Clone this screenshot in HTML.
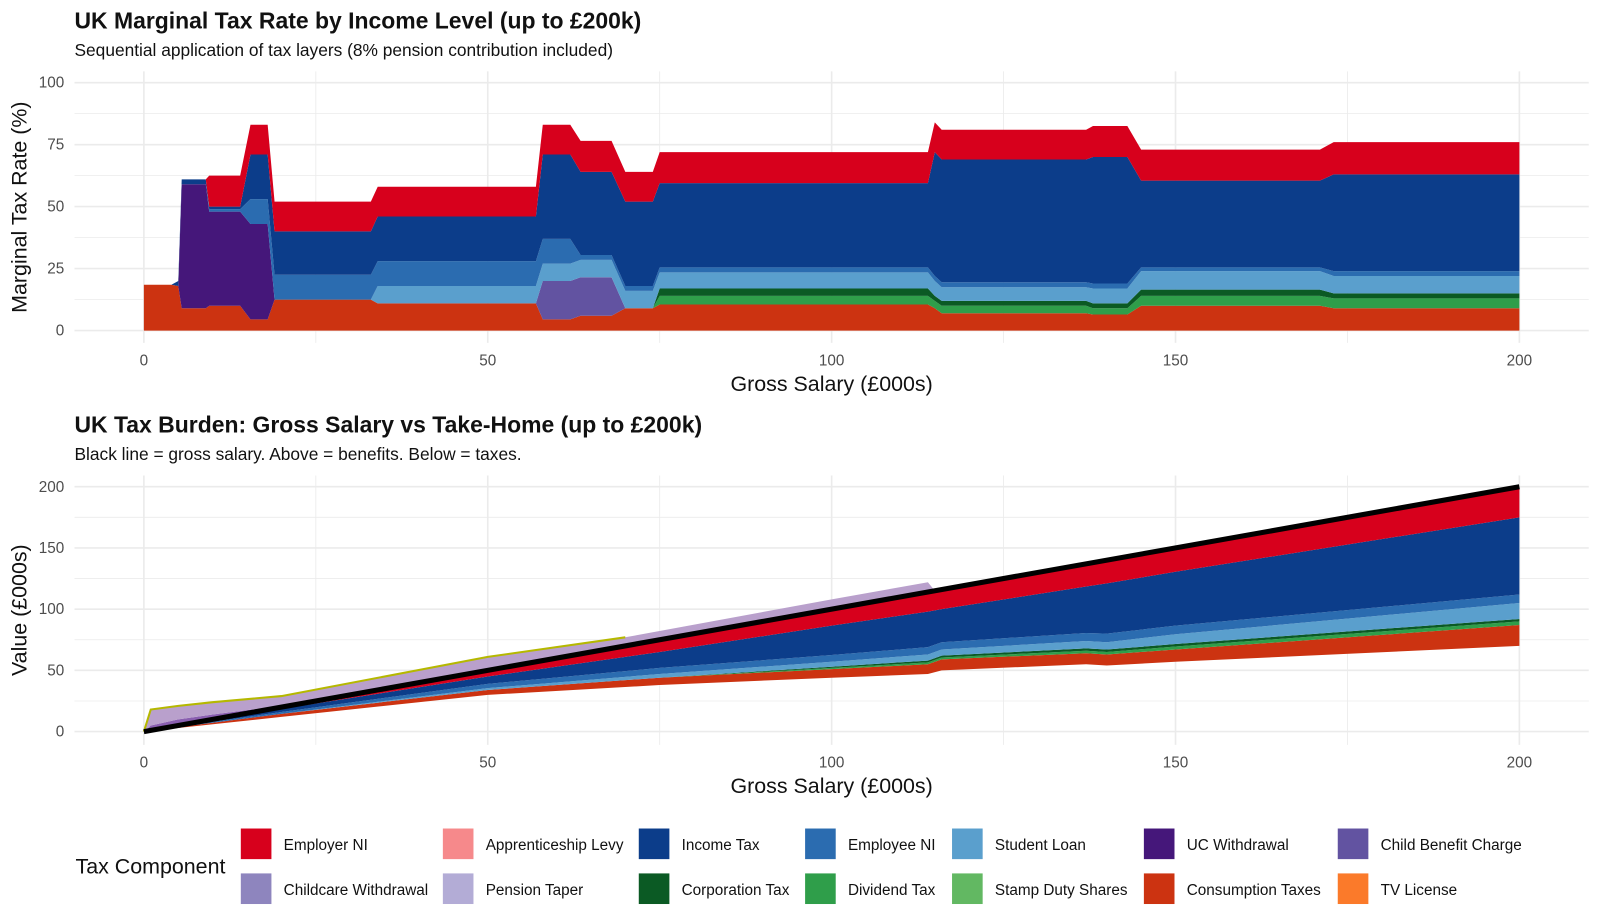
<!DOCTYPE html>
<html><head><meta charset="utf-8">
<style>
body{margin:0;background:#fff;font-family:"Liberation Sans",Arial,sans-serif;}
svg{display:block;}
svg text{font-family:"Liberation Sans",Arial,sans-serif;}
</style></head>
<body>
<svg id="chart" width="1600" height="923" viewBox="0 0 1568 904.6" preserveAspectRatio="none" xmlns="http://www.w3.org/2000/svg">
<rect width="1568" height="905" fill="#fff"/>
<text x="73" y="28" font-size="22.5" font-weight="bold" fill="#111">UK Marginal Tax Rate by Income Level (up to £200k)</text>
<text x="73" y="55" font-size="17" fill="#111">Sequential application of tax layers (8% pension contribution included)</text>
<text x="73" y="424" font-size="22.5" font-weight="bold" fill="#111">UK Tax Burden: Gross Salary vs Take-Home (up to £200k)</text>
<text x="73" y="451" font-size="17" fill="#111">Black line = gross salary. Above = benefits. Below = taxes.</text>
<g id="top"></g>
<g id="bot"></g>
<g id="legend">
<text x="74" y="856" font-size="21" fill="#111">Tax Component</text>
</g>
</svg>
<script>
const NS="http://www.w3.org/2000/svg";
function mk(parent,tag,attrs){const e=document.createElementNS(NS,tag);for(const k in attrs)e.setAttribute(k,attrs[k]);parent.appendChild(e);return e;}

const COL={emp:"#d7001c",app:"#f6898b",inc:"#0c3d8a",eni:"#2b6cb0",sl:"#5a9fcd",uc:"#45177a",cb:"#6253a1",cc:"#8e85be",pt:"#b3acd6",corp:"#0b5a24",div:"#2f9e4a",sds:"#62b862",cons:"#cc3311",tv:"#fb7a2a"};

// ---- Top chart data (marginal rate %, layer heights) ----
const topX=[0,4,5,5.5,9,9.5,14,15.5,18,19,33,34,57,58,62,63.5,68,70,74,75,114,115,116,137,138,143,145,171,173,200];
const topCons=[18.5,18.5,18,9,9,10,10,4.5,4.5,12.5,12.5,11,11,4.5,4.5,6,6,9,9,10.5,10.5,9,7,7,6.5,6.5,10,10,9,9];
const topUC=[0,0,0,50,50,38,38,38.5,38.5,0,0,0,0,0,0,0,0,0,0,0,0,0,0,0,0,0,0,0,0,0];
const topCB=[0,0,0,0,0,0,0,0,0,0,0,0,0,15.5,15.5,15.5,15.5,0,0,0,0,0,0,0,0,0,0,0,0,0];
const topDiv=[0,0,0,0,0,0,0,0,0,0,0,0,0,0,0,0,0,0,0,3.5,3.5,3,3,3,2.5,2.5,4,4,4,4];
const topCorp=[0,0,0,0,0,0,0,0,0,0,0,0,0,0,0,0,0,0,0,3,3,2,2,2,2,2,2.5,2.5,2,2];
const topSL=[0,0,0,0,0,0,0,0,0,0,0,7,7,7,7,7,7,7,7,6.5,6.5,6,5.5,5.5,6,6,7.5,7.5,7,7];
const topENI=[0,0,0,0,0,1,1,10,10,10,10,10,10,10,10,2,2,2,2,2,2,2,2,2,2,2,1.5,1.5,2,2];
const topInc=[0,0,2,2,2,1,1,18,18,17.5,17.5,18,18,34,34,33.5,33.5,34,34,34,34,50,49.5,49.5,51,51,35,35,39,39];
const topEmp=[0,0,0,0,0,12.5,12.5,12,12,12,12,12,12,12,12,12.5,12.5,12,12,12.5,12.5,12,12,12,12.5,12.5,12.5,12.5,13,13];
const topTicksX=[0,50,100,150,200];
const topTicksY=[0,25,50,75,100];

// ---- Bottom chart data (£000s) ----
const botX=[0,20,50,75,100,114,116,137,140,150,200];
const botTH=[0,12,30,38,44,47,50,55,54,57,70];
const botCons=[0,2.5,4,6,7,8,9,9,9,10,17];
const botDiv=[0,0,0,0,1,1.5,1.5,2,2,2.5,3];
const botCorp=[0,0,0,0,1,1.5,1.5,2,2,2,2];
const botSL=[0,0,1.5,3,4,5,5,6,6,8,13];
const botENI=[0,1.5,3.5,5,5.5,6,6,6.5,7,7,7];
const botInc=[0,2.5,6,13,24,29,27,38,41,44,63];
const botEmp=[0,1.5,5,10,13.5,16,16,18.5,19,19.5,25];
const benX=[0,1,5,10,20,50,70,100,114,115];
const benUC=[0,4,5,4,1,0,0,0,0,0];
const benTaper=[0,13,11,10,8,11,7,8,8,0];
const botTicksX=[0,50,100,150,200];
const botTicksY=[0,50,100,150,200];

function drawPanel(g,opt){
  const xs=v=>141+v*(1489-141)/200;
  const ys=opt.ys;
  for(let v=-25;v<=225;v+=25){const px=xs(v);if(px<73||px>1557)continue;
    const l=mk(g,"line",{x1:px,x2:px,y1:opt.top,y2:opt.bottom,stroke:"#ebebeb","stroke-width":v%50===0?1.6:0.8});
    }
  opt.minorY.forEach(v=>{const l=mk(g,"line",{x1:73,x2:1557,y1:ys(v),y2:ys(v),stroke:"#ebebeb","stroke-width":0.8});
    });
  opt.ticksY.forEach(v=>{const l=mk(g,"line",{x1:73,x2:1557,y1:ys(v),y2:ys(v),stroke:"#ebebeb","stroke-width":1.6});
    
    const t=mk(g,"text",{x:63,y:ys(v)+5,"font-size":15,fill:"#4d4d4d","text-anchor":"end"});t.textContent=v;
    });
  opt.ticksX.forEach(v=>{const t=mk(g,"text",{x:xs(v),y:opt.bottom+22,"font-size":15,fill:"#4d4d4d","text-anchor":"middle"});t.textContent=v;
    });
  const xl=mk(g,"text",{x:815,y:opt.bottom+47,"font-size":21,fill:"#111","text-anchor":"middle"});xl.textContent="Gross Salary (£000s)";
  
  const cy=(opt.top+opt.bottom)/2;
  const yl=mk(g,"text",{x:0,y:0,"font-size":21,fill:"#111","text-anchor":"middle",transform:`translate(26,${cy}) rotate(-90)`});yl.textContent=opt.ylabel;
  
  return xs;
}
function stack(g,X,layers,base,xs,ys){
  let cum=base?base.slice():X.map(()=>0);
  layers.forEach(([arr,col,name])=>{
    const top=cum.map((c,i)=>c+arr[i]);
    let d="M"+X.map((x,i)=>xs(x)+","+ys(top[i])).join("L");
    for(let i=X.length-1;i>=0;i--)d+="L"+xs(X[i])+","+ys(cum[i]);
    const p=mk(g,"path",{d:d+"Z",fill:col,stroke:"none"});
    
    cum=top;
  });
  return cum;
}
const gT=document.getElementById("top");
const ysT=v=>324-v*2.43;
const xsT=drawPanel(gT,{top:70,bottom:336,ys:ysT,ticksY:topTicksY,ticksX:topTicksX,minorY:[12.5,37.5,62.5,87.5],ylabel:"Marginal Tax Rate (%)"});
stack(gT,topX,[[topCons,COL.cons,"area-consumption-taxes"],[topUC,COL.uc,"area-uc-withdrawal"],[topCB,COL.cb,"area-child-benefit-charge"],[topDiv,COL.div,"area-dividend-tax"],[topCorp,COL.corp,"area-corporation-tax"],[topSL,COL.sl,"area-student-loan"],[topENI,COL.eni,"area-employee-ni"],[topInc,COL.inc,"area-income-tax"],[topEmp,COL.emp,"area-employer-ni"]],null,xsT,ysT);
const gB=document.getElementById("bot");
const ysB=v=>717-v*1.2;
const xsB=drawPanel(gB,{top:466,bottom:730,ys:ysB,ticksY:botTicksY,ticksX:botTicksX,minorY:[25,75,125,175],ylabel:"Value (£000s)"});
const benTop=stack(gB,benX,[[benUC,"#8a5fb0","area-uc-benefit"],[benTaper,"#b9a0cc","area-pension-taper"]],benX.slice(),xsB,ysB);
const ol=mk(gB,"path",{d:"M"+benX.filter(x=>x<=70).map((x,i)=>xsB(x)+","+ysB(benTop[i])).join("L"),fill:"none",stroke:"#b5b800","stroke-width":2});

stack(gB,botX,[[botCons,COL.cons,"area-consumption-taxes"],[botDiv,COL.div,"area-dividend-tax"],[botCorp,COL.corp,"area-corporation-tax"],[botSL,COL.sl,"area-student-loan"],[botENI,COL.eni,"area-employee-ni"],[botInc,COL.inc,"area-income-tax"],[botEmp,COL.emp,"area-employer-ni"]],botTH,xsB,ysB);
const gl=mk(gB,"line",{x1:xsB(0),y1:ysB(0),x2:xsB(200),y2:ysB(200),stroke:"#000","stroke-width":5});

const leg=document.getElementById("legend");
const items=[["Employer NI",COL.emp],["Apprenticeship Levy",COL.app],["Income Tax",COL.inc],["Employee NI",COL.eni],["Student Loan",COL.sl],["UC Withdrawal",COL.uc],["Child Benefit Charge",COL.cb],["Childcare Withdrawal",COL.cc],["Pension Taper",COL.pt],["Corporation Tax",COL.corp],["Dividend Tax",COL.div],["Stamp Duty Shares",COL.sds],["Consumption Taxes",COL.cons],["TV License",COL.tv]];
const colX=[236,434,626,789,933,1121,1311];
items.forEach((it,i)=>{
  const c=i%7,r=Math.floor(i/7);
  const g=mk(leg,"g",{});
  
  mk(g,"rect",{x:colX[c],y:812+r*44,width:30,height:30,fill:it[1]});
  const t=mk(g,"text",{x:colX[c]+42,y:833+r*44,"font-size":15,fill:"#111"});t.textContent=it[0];
});
</script>
</body></html>
